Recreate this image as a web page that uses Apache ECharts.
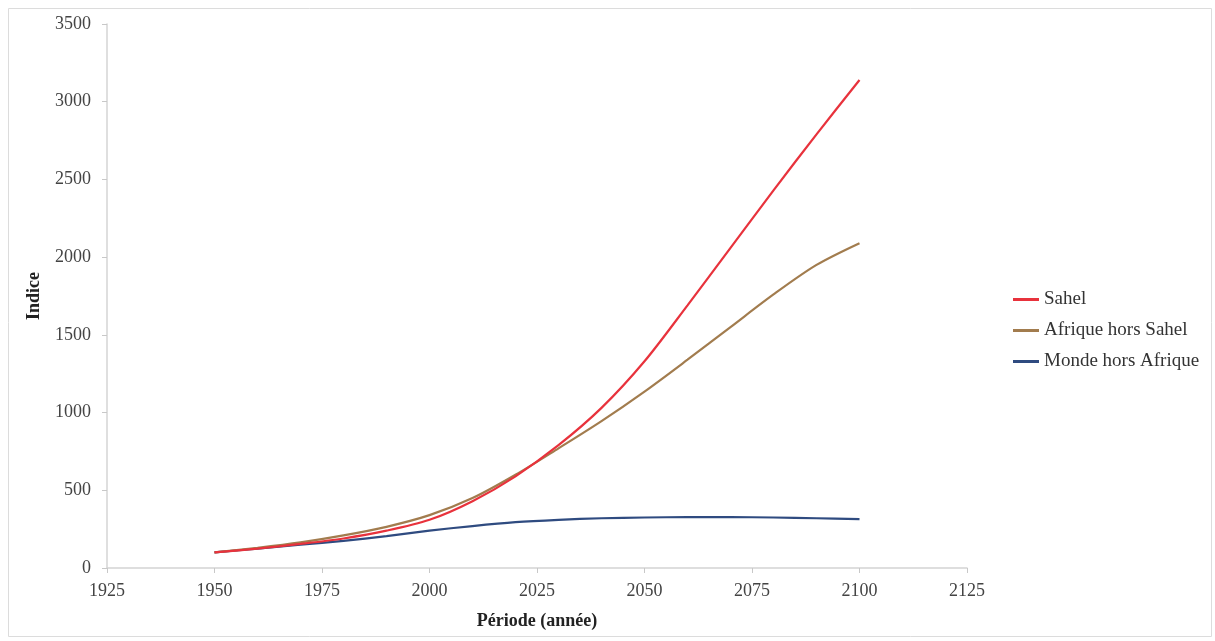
<!DOCTYPE html>
<html>
<head>
<meta charset="utf-8">
<script src="https://cdn.jsdelivr.net/npm/echarts@6/dist/echarts.min.js"></script>
<style>
html,body{margin:0;padding:0;background:#fff;}
#chart{width:1215px;height:641px;}
</style>
</head>
<body>
<div id="chart"></div>
<script>
const years = [1950,1960,1970,1980,1990,2000,2010,2020,2030,2040,2050,2060,2070,2080,2090,2100];
const sahel = [100,125,155,190,240,310,430,590,790,1030,1330,1690,2060,2430,2790,3140];
const afriqueHorsSahel = [100,130,165,210,265,340,450,600,770,945,1135,1340,1550,1760,1950,2090];
const mondeHorsAfrique = [100,125,150,175,205,240,270,295,310,320,325,327,327,325,320,315];
const seriesNames = ['Sahel','Afrique hors Sahel','Monde hors Afrique'];
const seriesColors = ['#e8323c','#a27c4e','#2f4b80'];
const xTicks = {min:1925,max:2125,interval:25};
const yTicks = {min:0,max:3500,interval:500};

const pairs = arr => years.map((y,i)=>[y,arr[i]]);
const allData = [sahel, afriqueHorsSahel, mondeHorsAfrique];
const font = '"Liberation Serif","Times New Roman",serif';

const chart = echarts.init(document.getElementById('chart'));
chart.setOption({
  animation:false,
  backgroundColor:'#fff',
  graphic:[{type:'rect',shape:{x:8.5,y:8.5,width:1203,height:628},style:{fill:'none',stroke:'#dcdcdc',lineWidth:1},silent:true}],
  grid:{left:107,right:248,top:24,bottom:73},
  legend:{
    orient:'vertical',left:1008,top:285,
    itemWidth:26,itemHeight:3,itemGap:12,icon:'rect',
    textStyle:{fontFamily:font,fontSize:19,color:'#333'},
    data:seriesNames
  },
  xAxis:{
    type:'value',min:xTicks.min,max:xTicks.max,interval:xTicks.interval,
    name:'Période (année)',nameLocation:'middle',nameGap:44,
    nameTextStyle:{fontFamily:font,fontSize:18,fontWeight:'bold',color:'#222'},
    axisLine:{lineStyle:{color:'#d4d4d4',width:1.5}},
    axisTick:{show:true,length:5,lineStyle:{color:'#c8c8c8'}},
    splitLine:{show:false},
    axisLabel:{fontFamily:font,fontSize:18,color:'#444',margin:14,formatter:v=>String(v)}
  },
  yAxis:{
    type:'value',min:yTicks.min,max:yTicks.max,interval:yTicks.interval,
    name:'Indice',nameLocation:'middle',nameGap:64,
    nameTextStyle:{fontFamily:font,fontSize:18,fontWeight:'bold',color:'#222'},
    axisLine:{show:true,lineStyle:{color:'#d4d4d4',width:1.5}},
    axisTick:{show:true,length:5,lineStyle:{color:'#c8c8c8'}},
    splitLine:{show:false},
    axisLabel:{fontFamily:font,fontSize:18,color:'#444',margin:16,formatter:v=>String(v)}
  },
  series: seriesNames.map((n,i)=>({
    name:n,type:'line',smooth:0.3,showSymbol:false,
    data:pairs(allData[i]),
    lineStyle:{color:seriesColors[i],width:2.2},
    itemStyle:{color:seriesColors[i]},
    z: 3-i
  }))
});
</script>
</body>
</html>
